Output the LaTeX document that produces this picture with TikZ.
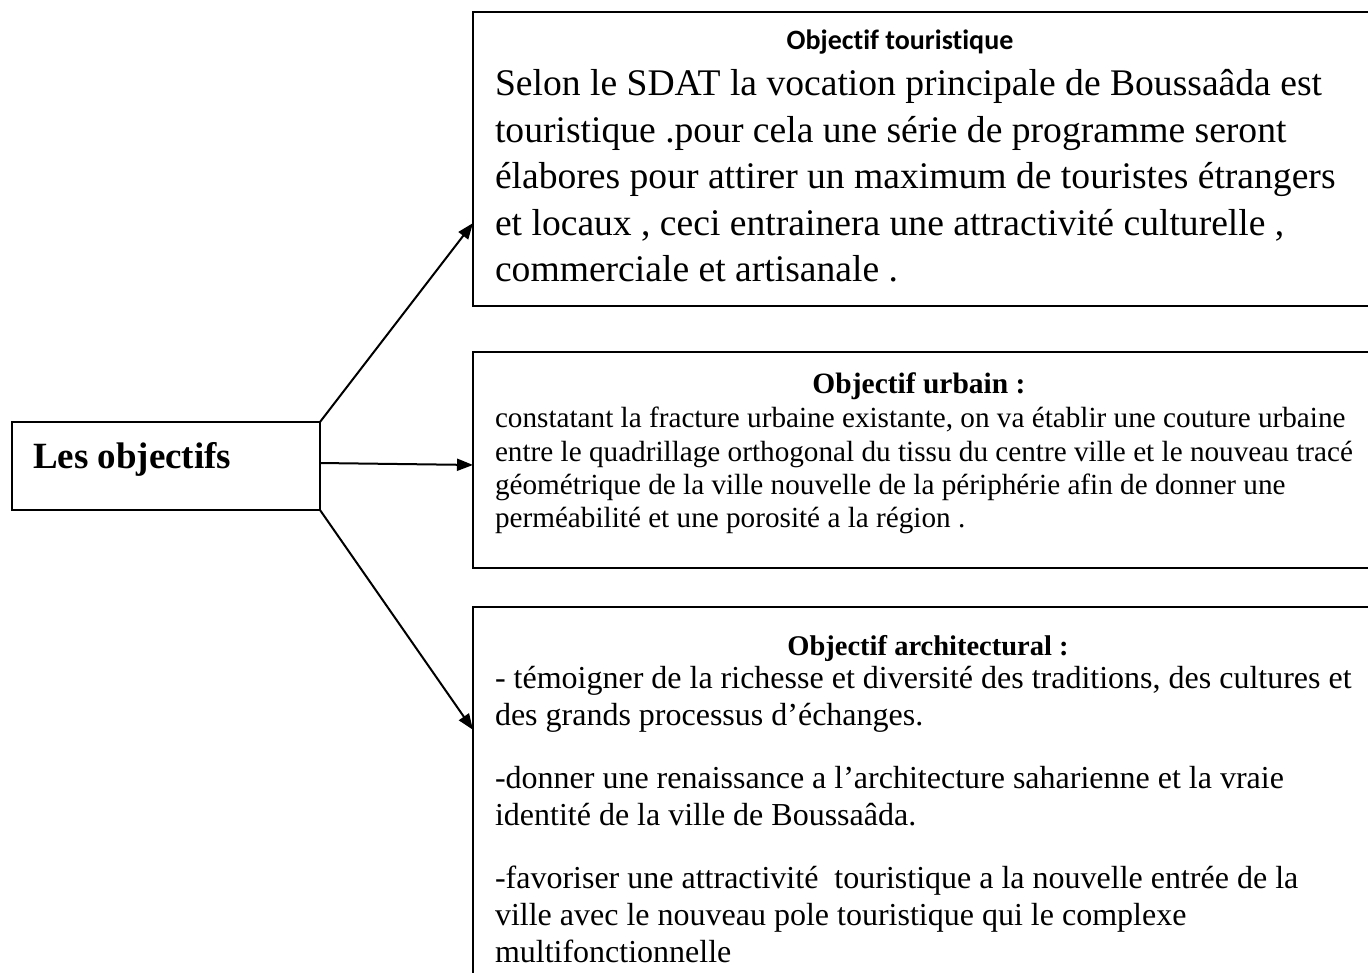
\documentclass[tikz,border=0pt]{standalone}
\usepackage{fontspec}
\setmainfont{Liberation Serif}
\newfontfamily\calibrifont[Ligatures=NoCommon,Contextuals=NoAlternate]{Carlito}
\usetikzlibrary{arrows.meta,calc}
\begin{document}
\begin{tikzpicture}[x=1pt,y=-1pt,
  box/.style={draw, line width=1.8pt, inner sep=0pt, outer sep=0pt, anchor=north west},
  arr/.style={-{Triangle[length=16pt,width=12pt]}, line width=2pt},
  ln/.style={anchor=base west, inner sep=0pt, outer sep=0pt},
  ttl/.style={anchor=base, inner sep=0pt, outer sep=0pt},
  fa/.style={font=\fontsize{37.6}{44}\selectfont},
  fb/.style={font=\fontsize{29.2}{34}\selectfont},
  fc/.style={font=\fontsize{32}{37}\selectfont},
]
\useasboundingbox (0,0) rectangle (1368,973);
\fill[white] (0,0) rectangle (1368,973);
\begin{scope}
\clip (0,0) rectangle (1368,973);
% boxes
\node[box, minimum width=308pt, minimum height=88pt] (obj) at (12,422) {};
\node[box, minimum width=920pt, minimum height=294pt] (b1) at (473,12) {};
\node[box, minimum width=920pt, minimum height=216pt] (b2) at (473,352) {};
\node[box, minimum width=920pt, minimum height=390pt] (b3) at (473,607) {};
% main label
\node[ln, font=\fontsize{37}{42}\selectfont\bfseries] (objt) at (33,468) {Les objectifs};
% box 1
\node[ttl, font=\calibrifont\fontsize{28}{32}\selectfont\bfseries] (t1) at (900,50) {Objectif touristique};
\node[ln,fa] (l11) at (495,96) {Selon le SDAT la vocation principale de Boussaâda est};
\node[ln,fa] (l12) at (495,142.5) {touristique .pour cela une série de programme seront};
\node[ln,fa] (l13) at (495,189) {élabores pour attirer un maximum de touristes étrangers};
\node[ln,fa] (l14) at (495,235.5) {et locaux , ceci entrainera une attractivité culturelle ,};
\node[ln,fa] (l15) at (495,282) {commerciale et artisanale .};
% box 2
\node[ttl, font={\fontsize{29.5}{34}\selectfont\bfseries}] (t2) at (919,393) {Objectif urbain :};
\node[ln,fb] (l21) at (495,428) {constatant la fracture urbaine existante, on va établir une couture urbaine};
\node[ln,fb] (l22) at (495,461) {entre le quadrillage orthogonal du tissu du centre ville et le nouveau tracé};
\node[ln,fb] (l23) at (495,494) {géométrique de la ville nouvelle de la périphérie afin de donner une};
\node[ln,fb] (l24) at (495,527) {perméabilité et une porosité a la région .};
% box 3
\node[ttl, font={\fontsize{28.5}{34}\selectfont\bfseries}] (t3) at (928,655) {Objectif architectural :};
\node[ln,fc] (l31) at (495,688) {- témoigner de la richesse et diversité des traditions, des cultures et};
\node[ln,fc] (l32) at (495,725) {des grands processus d’échanges.};
\node[ln,fc] (l33) at (495,788) {-donner une renaissance a l’architecture saharienne et la vraie};
\node[ln,fc] (l34) at (495,825) {identité de la ville de Boussaâda.};
\node[ln,fc] (l35) at (495,888) {-favoriser une attractivité\ \ touristique a la nouvelle entrée de la};
\node[ln,fc] (l36) at (495,925) {ville avec le nouveau pole touristique qui le complexe};
\node[ln,fc] (l37) at (495,962) {multifonctionnelle};
% arrows
\draw[arr] (obj.north east) -- ($(b1.north west)!0.718!(b1.south west)$);
\draw[arr] ($(obj.north east)!0.466!(obj.south east)$) -- ($(b2.north west)!0.523!(b2.south west)$);
\draw[arr] (obj.south east) -- ($(b3.north west)!0.315!(b3.south west)$);
\end{scope}
\end{tikzpicture}
\end{document}
